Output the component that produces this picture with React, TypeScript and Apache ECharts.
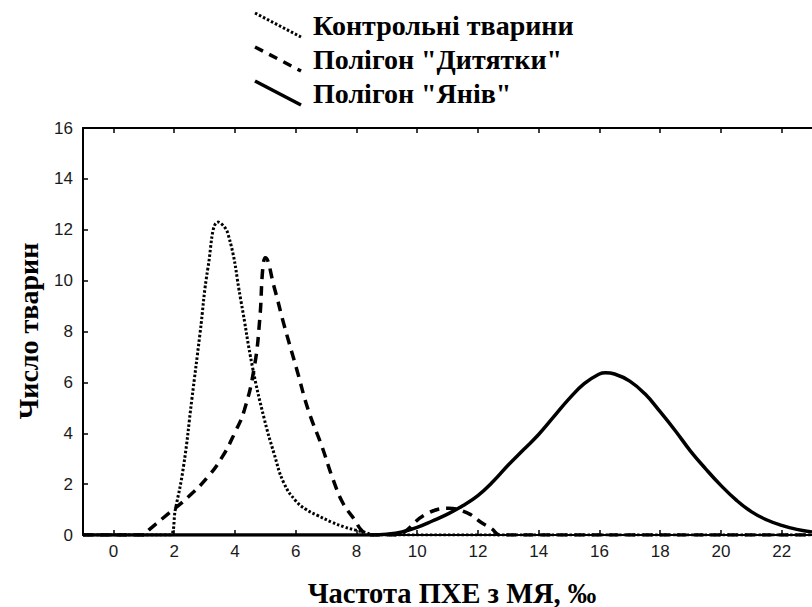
import React, { useEffect, useRef } from "react";
import * as echarts from "echarts";

const seriesNames = ["Контрольні тварини", 'Полігон "Дитятки"', 'Полігон "Янів"'];

const controlX = [-1, 1.85, 2.04, 2.31, 2.58, 2.85, 3.12, 3.45, 3.77, 4.2, 4.58, 4.96, 5.29, 5.61, 6.0, 6.35, 6.7, 7.2, 7.6, 7.95, 8.3, 8.6, 23];
const controlY = [0, 0, 1.0, 2.7, 5.3, 7.9, 10.55, 12.3, 11.85, 9.2, 6.6, 4.6, 3.2, 2.05, 1.35, 1.0, 0.78, 0.5, 0.32, 0.2, 0.1, 0, 0];

const dityatkyX = [-1, 1.0, 1.17, 1.82, 2.47, 3.12, 3.6, 3.99, 4.31, 4.64, 4.82, 4.92, 5.0, 5.29, 5.61, 6.04, 6.42, 6.86, 7.24, 7.56, 7.94, 8.16, 8.4, 9.4, 9.6, 10.27, 11.03, 11.68, 12.1, 12.44, 12.75, 23];
const dityatkyY = [0, 0, 0.2, 0.85, 1.5, 2.3, 3.1, 4.0, 4.9, 6.6, 8.5, 10.5, 10.9, 9.76, 8.3, 6.5, 4.9, 3.5, 2.16, 1.25, 0.6, 0.2, 0, 0, 0.13, 0.8, 1.05, 0.85, 0.5, 0.26, 0, 0];

const yanivX = [-1, 8.5, 9, 9.5, 10, 10.5, 11, 11.5, 12, 12.5, 13, 13.5, 14, 14.5, 15, 15.5, 16, 16.2, 16.5, 17, 17.5, 18, 18.5, 19, 19.5, 20, 20.5, 21, 21.5, 22, 22.5, 23];
const yanivY = [0, 0, 0.03, 0.12, 0.3, 0.55, 0.82, 1.15, 1.55, 2.1, 2.75, 3.35, 3.95, 4.65, 5.35, 5.95, 6.33, 6.38, 6.33, 6.05, 5.55, 4.85, 4.1, 3.3, 2.6, 1.95, 1.38, 0.92, 0.6, 0.38, 0.22, 0.12];

const xTicks = [0, 2, 4, 6, 8, 10, 12, 14, 16, 18, 20, 22];

const xTitle = "Частота ПХЕ з МЯ, ‰";
const yTitle = "Число тварин";

const zip = (xs: number[], ys: number[]) => xs.map((x, i) => [x, ys[i]]);

export default function App() {
  const ref = useRef<HTMLDivElement>(null);
  useEffect(() => {
    if (!ref.current) return;
    const chart = echarts.init(ref.current, null, { renderer: "svg" });
    const titleFont = { fontFamily: "Liberation Serif", fontWeight: "bold" as const, fill: "#000" };
    const legendRows = [
      { y: 25, dash: [2.5, 2], w: 3 },
      { y: 59, dash: [9, 7], w: 3.5 },
      { y: 93, dash: null as any, w: 3.5 },
    ];
    const graphics: any[] = [];
    legendRows.forEach((r, i) => {
      graphics.push({
        type: "line",
        shape: { x1: 255, y1: r.y - 12, x2: 301, y2: r.y + 12 },
        style: { stroke: "#000", lineWidth: r.w, lineDash: r.dash || undefined },
      });
      graphics.push({
        type: "text",
        x: 313,
        y: r.y,
        style: { ...titleFont, text: seriesNames[i], fontSize: 28, textVerticalAlign: "middle", textAlign: "left" },
      });
    });
    graphics.push({
      type: "text",
      x: 452,
      y: 593,
      style: { ...titleFont, text: xTitle, fontSize: 28.5, textAlign: "center", textVerticalAlign: "middle" },
    });
    graphics.push({
      type: "text",
      x: 28,
      y: 331,
      rotation: Math.PI / 2,
      style: { ...titleFont, text: yTitle, fontSize: 28, textAlign: "center", textVerticalAlign: "middle" },
    });

    const lineCommon = {
      type: "line" as const,
      showSymbol: false,
      smooth: 0.45,
      silent: true,
    };
    const tickStyle = { show: true, inside: true, length: 5, lineStyle: { color: "#000", width: 1.5 } };
    const labelStyle = { color: "#1a1a1a", fontFamily: "Liberation Sans", fontSize: 17 };

    chart.setOption({
      animation: false,
      grid: { left: 83, top: 128, width: 737, height: 407, containLabel: false },
      xAxis: [
        {
          type: "value",
          min: -1,
          max: 23,
          axisLine: { show: true, onZero: false, lineStyle: { color: "#000", width: 2 } },
          axisTick: { ...tickStyle, customValues: xTicks },
          axisLabel: { ...labelStyle, customValues: xTicks, margin: 8 },
          splitLine: { show: false },
        },
        {
          type: "value",
          position: "top",
          min: -1,
          max: 23,
          axisLine: { show: true, onZero: false, lineStyle: { color: "#000", width: 2 } },
          axisTick: { ...tickStyle, customValues: xTicks },
          axisLabel: { show: false },
          splitLine: { show: false },
        },
      ],
      yAxis: [
        {
          type: "value",
          min: 0,
          max: 16,
          interval: 2,
          axisLine: { show: true, onZero: false, lineStyle: { color: "#000", width: 2 } },
          axisTick: tickStyle,
          axisLabel: { ...labelStyle, margin: 10 },
          splitLine: { show: false },
        },
      ],
      series: [
        {
          ...lineCommon,
          name: seriesNames[2],
          data: zip(yanivX, yanivY),
          lineStyle: { color: "#000", width: 3.5 },
          z: 2,
        },
        {
          ...lineCommon,
          name: seriesNames[1],
          data: zip(dityatkyX, dityatkyY),
          lineStyle: { color: "#000", width: 3.5, type: [10, 7] },
          z: 3,
        },
        {
          ...lineCommon,
          name: seriesNames[0],
          data: zip(controlX, controlY),
          lineStyle: { color: "#000", width: 3, type: [2.5, 2] },
          z: 4,
        },
      ],
      graphic: graphics,
    });
    return () => chart.dispose();
  }, []);
  return (
    <div
      ref={ref}
      style={{ position: "fixed", left: 0, top: 0, width: 812, height: 607, background: "#fff" }}
    />
  );
}
